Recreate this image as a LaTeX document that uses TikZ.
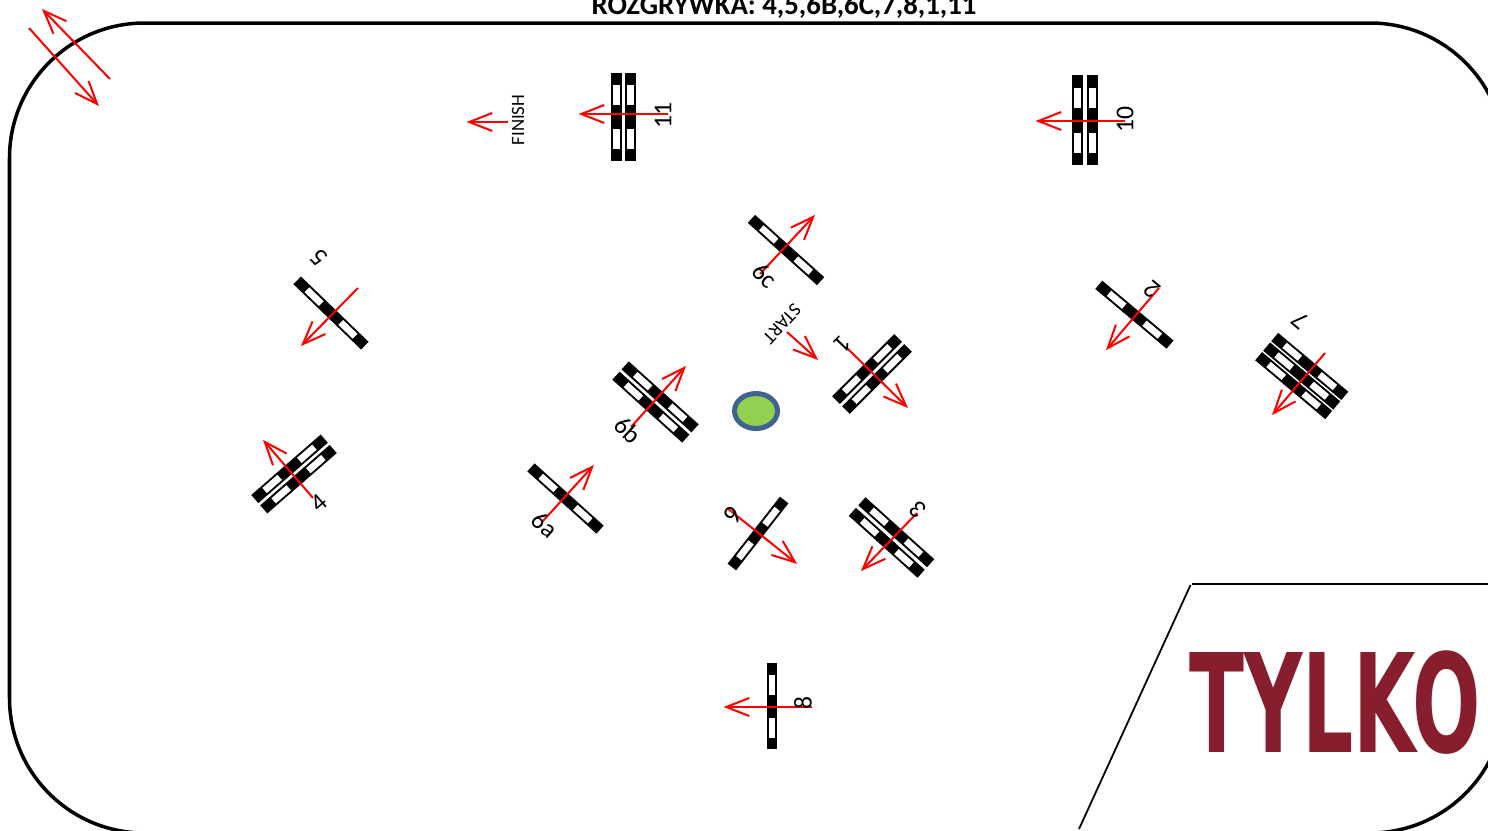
\documentclass[tikz,border=0pt]{standalone}
\usepackage{fontspec}
\setmainfont{Carlito}
\newfontfamily\logofont{DejaVu Sans}[BoldFont={DejaVu Sans Bold}]
\usetikzlibrary{arrows.meta,shapes.geometric}
\definecolor{flowred}{RGB}{255,0,0}
\definecolor{logored}{RGB}{136,30,45}
\definecolor{spotgreen}{RGB}{146,208,80}
\definecolor{spotblue}{RGB}{65,98,145}
\tikzset{
  flow/.style={draw=flowred,line width=0.02cm,shorten >=-0.015cm,-{Straight Barb[length=2.3mm,width=1.8mm]}},
  gatelab/.style={font=\fontsize{7.3}{8}\selectfont,inner sep=0pt},
  signlab/.style={font=\fontsize{5.35}{6}\selectfont,inner sep=0pt}
}
\begin{document}
\begin{tikzpicture}[x=0.01cm,y=-0.01cm]
\clip (0,0) rectangle (1488,830);
\draw[line width=0.035cm,rounded corners=1.35cm] (9.5,23) rectangle (1505,833);
\node[anchor=base,inner sep=0pt,font=\fontsize{8.18}{9}\selectfont\bfseries] (title) at (784,14) {ROZGRYWKA: 4,5,6B,6C,7,8,1,11};

\foreach \cx/\cy/\ang/\len/\nbars/\gap in {
  623.5/117/90/88/2/14.5, 1085/120/90/90/2/14.5, 772/706/90/86/1/0,
  331/313/-44/94/1/0, 786/250/-42/93/1/0, 1134.4/314.7/-40/93/1/0,
  1301.7/376/-40/91.5/3/12.5, 872/374/45/88/2/14, 655.5/402/-42/94/2/13.8,
  565.5/498.5/-42/93/1/0, 758/533.5/52/85/1/0, 891.5/537.5/-42/92.5/2/14.2,
  294/474/41/92/2/13.7} {
  \begin{scope}[shift={(\cx,\cy)},rotate=\ang]
    \foreach \i in {1,...,\nbars} {
      \pgfmathsetmacro\off{(\i-(\nbars+1)/2)*\gap}
      \fill[black] (-\len/2,\off-5.4) rectangle (\len/2,\off+5.4);
      \fill[white] (-\len/4-10,\off-3.4) rectangle (-\len/4+10,\off+3.4);
      \fill[white] (\len/4-10,\off-3.4) rectangle (\len/4+10,\off+3.4);
    }
  \end{scope}
}

\foreach \nm/\tx/\ty/\hx/\hy in {
  nwa/110/79/43/10, nwb/29/28/98/105, finish/508/122/468/122, g11/668/114/580/114,
  g10/1125/121/1037/121, gc/760/274/814/216, g5/358/288/302/345, g2/1159/288/1107/349,
  g7/1325/353/1273/414, start/787/332/817/359, g1/847/348/907/407, gb/631/427/685/367,
  ga/542/522/593/466, g6/727/508/796/563, g3/917/513/862/570, g4/313/498/264/441,
  g8/812/707/725/707} {
  \coordinate (\nm tail) at (\tx,\ty);
  \coordinate (\nm tip) at (\hx,\hy);
  \draw[flow] (\nm tail) -- (\nm tip);
}

\node[gatelab,rotate=90] (lab11) at (663,115) {11};
\node[gatelab,rotate=90] (lab10) at (1125,119) {10};
\node[gatelab,rotate=90] (lab8) at (803,703) {8};
\node[gatelab,rotate=-42] (lab6b) at (628,430) {6b};
\node[gatelab,rotate=135] (lab5) at (319,258) {5};
\node[gatelab,rotate=-43] (lab6c) at (765,275) {6c};
\node[gatelab,rotate=140] (lab2) at (1152,290) {2};
\node[gatelab,rotate=140] (lab7) at (1300,321) {7};
\node[gatelab,rotate=-134] (lab1) at (843,344) {1};
\node[gatelab,rotate=-42] (lab6a) at (545,525) {6a};
\node[gatelab,rotate=-129] (lab6) at (733,515) {6};
\node[gatelab,rotate=136] (lab3) at (918,510) {3};
\node[gatelab,rotate=41] (lab4) at (319,503) {4};
\node[signlab,rotate=90] (finishlab) at (518,120) {FINISH};
\node[signlab,rotate=-133] (startlab) at (782,324) {START};

\node[ellipse,draw=spotblue,fill=spotgreen,line width=0.05cm,minimum width=0.43cm,minimum height=0.35cm,inner sep=0pt] (spot) at (756,411) {};

\coordinate (framea) at (1190.5,585);
\coordinate (frameb) at (1079,829);
\coordinate (framec) at (1192,584);
\coordinate (framed) at (1488,584);
\draw[line width=0.018cm] (framea) -- (frameb);
\draw[line width=0.02cm] (framec) -- (framed);
\node[anchor=base west,inner sep=0pt,text=logored,xscale=0.587,font=\logofont\bfseries\fontsize{39}{40}\selectfont] (logo) at (1189,752) {TYLKO};
\end{tikzpicture}
\end{document}
